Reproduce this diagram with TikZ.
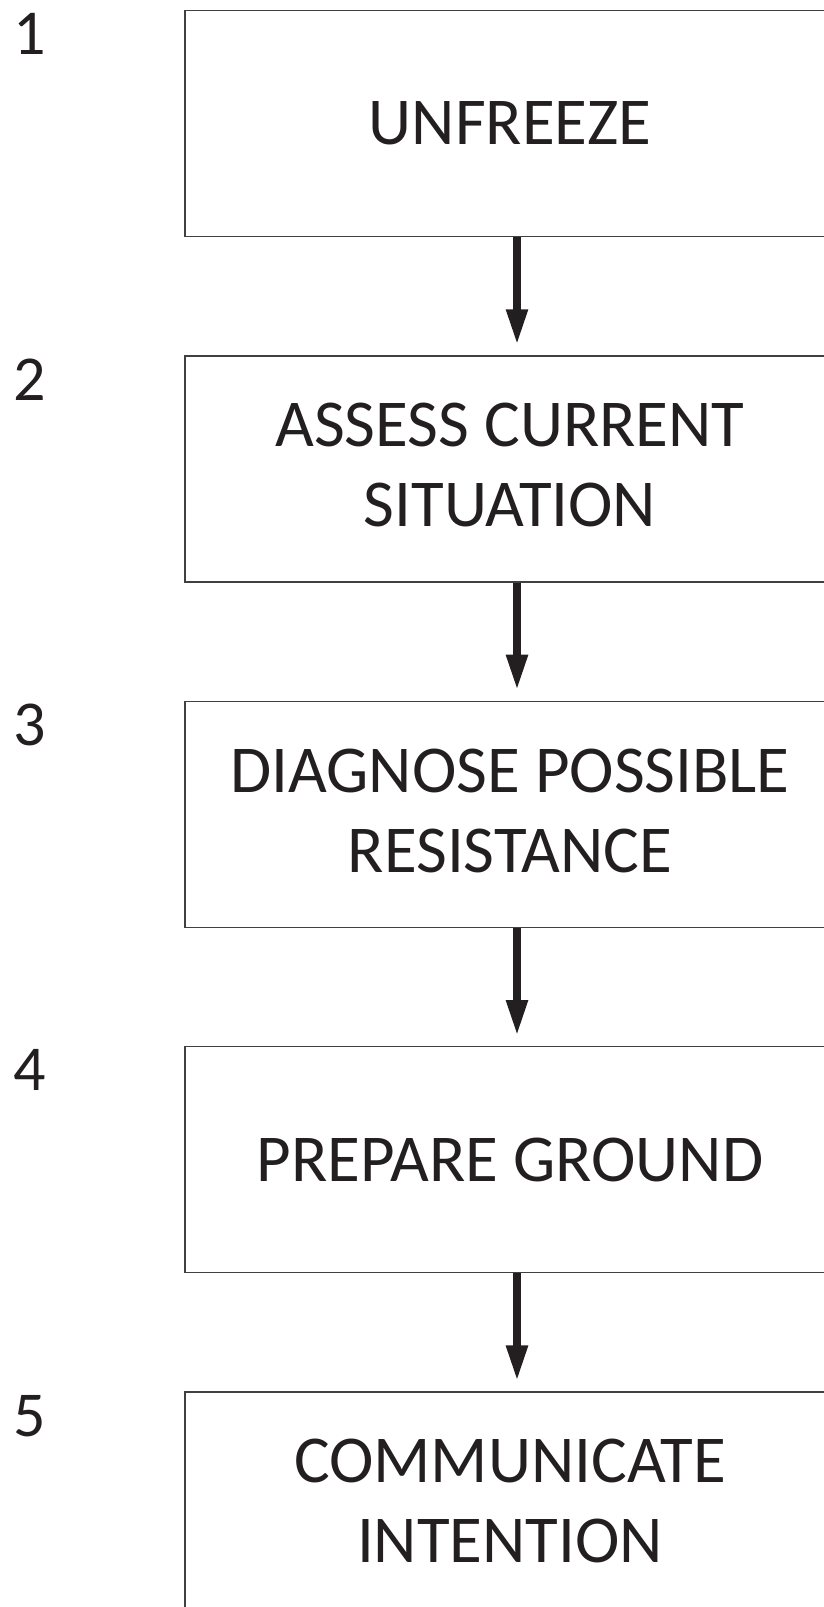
\documentclass[tikz,border=0pt]{standalone}
\usepackage{fontspec}
\setmainfont{Carlito}
\usetikzlibrary{arrows.meta}
\definecolor{ink}{HTML}{231F20}
\tikzstyle{stage}=[draw=black!75, line width=1.3pt, minimum width=650pt, minimum height=226pt, inner sep=0pt, align=center, text=ink, font=\fontsize{67}{80}\selectfont]
\tikzstyle{twoline}=[text depth=8pt]
\tikzstyle{num}=[anchor=north west, inner sep=0pt, text=ink, font=\fontsize{64}{64}\selectfont]
\tikzstyle{flow}=[draw=ink, line width=8pt, -{Triangle[width=20pt,length=36pt]}, shorten >=10pt]
\newcommand{\stage}{\node[stage]}
\begin{document}
\begin{tikzpicture}[x=1pt,y=-1pt]
            \useasboundingbox (0,0) rectangle (824,1607);
            \clip (0,0) rectangle (824,1607);
            \stage (s1) at (510,123.5){UNFREEZE};
            \stage[twoline] (s2) at (510,468.9){ASSESS CURRENT\\SITUATION};
            \stage[twoline] (s3) at (510,814.3){DIAGNOSE POSSIBLE\\RESISTANCE};
            \stage (s4) at (510,1159.7){PREPARE GROUND};
            \stage[twoline] (s5) at (510,1505.1){COMMUNICATE\\INTENTION};
            \node[num] (n1) at (13,13){1};
            \node[num] (n2) at (13,359){2};
            \node[num] (n3) at (13,704){3};
            \node[num] (n4) at (13,1049){4};
            \node[num] (n5) at (13,1395){5};
            \draw[flow] ([xshift=7pt]s1.south) -- ([xshift=7pt]s2.north);
            \draw[flow] ([xshift=7pt]s2.south) -- ([xshift=7pt]s3.north);
            \draw[flow] ([xshift=7pt]s3.south) -- ([xshift=7pt]s4.north);
            \draw[flow] ([xshift=7pt]s4.south) -- ([xshift=7pt]s5.north);
        \end{tikzpicture}
\end{document}
